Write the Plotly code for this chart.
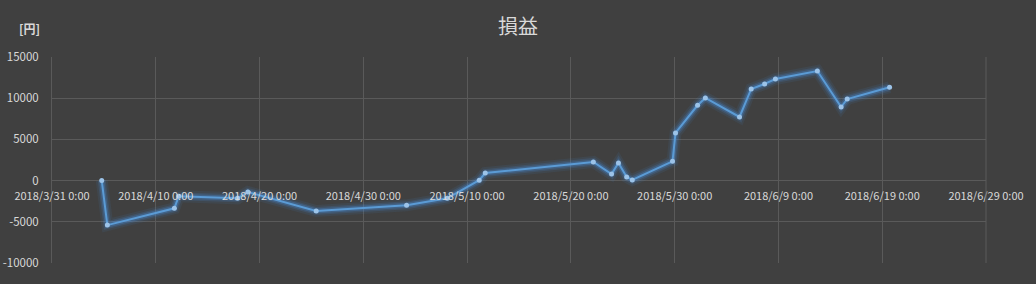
import plotly.graph_objects as go

dates = [
    "2018-04-04 19:00", "2018-04-05 08:00", "2018-04-11 19:00", "2018-04-12 05:00",
    "2018-04-17 21:00", "2018-04-18 21:00", "2018-04-25 11:00", "2018-05-04 04:00",
    "2018-05-08 02:00", "2018-05-11 04:00", "2018-05-11 18:00", "2018-05-22 04:00",
    "2018-05-23 22:00", "2018-05-24 14:00", "2018-05-25 09:00", "2018-05-25 22:00",
    "2018-05-29 19:00", "2018-05-30 02:00", "2018-06-01 05:00", "2018-06-01 23:00",
    "2018-06-05 06:00", "2018-06-06 09:00", "2018-06-07 16:00", "2018-06-08 17:00",
    "2018-06-12 18:00", "2018-06-15 01:00", "2018-06-15 15:00", "2018-06-19 17:00",
]
profit = [
    0, -5400, -3360, -1900,
    -2150, -1380, -3690, -3000,
    -2150, 50, 920, 2260,
    800, 2140, 440, 80,
    2340, 5780, 9140, 10030,
    7720, 11120, 11730, 12330,
    13300, 8930, 9900, 11320,
]
x_tick_dates = ["2018-03-31", "2018-04-10", "2018-04-20", "2018-04-30", "2018-05-10",
                "2018-05-20", "2018-05-30", "2018-06-09", "2018-06-19", "2018-06-29"]
x_tick_labels = ["2018/3/31 0:00", "2018/4/10 0:00", "2018/4/20 0:00", "2018/4/30 0:00",
                 "2018/5/10 0:00", "2018/5/20 0:00", "2018/5/30 0:00", "2018/6/9 0:00",
                 "2018/6/19 0:00", "2018/6/29 0:00"]
y_ticks = [-10000, -5000, 0, 5000, 10000, 15000]
y_tick_labels = ["-10000", "-5000", "0", "5000", "10000", "15000"]

FONT = "Noto Sans CJK JP"
W, H = 1036, 284
L, R, T, B = 52, 986, 57, 263
y_min, y_max = -10000, 15000
zero_pos = (0 - y_min) / (y_max - y_min)

fig = go.Figure()
# glow layers
for w, a in [(12, 0.08), (8, 0.14), (5, 0.25)]:
    fig.add_trace(go.Scatter(x=dates, y=profit, mode="lines",
                             line=dict(color=f"rgba(70,150,240,{a})", width=w),
                             hoverinfo="skip", showlegend=False))
fig.add_trace(go.Scatter(x=dates, y=profit, mode="lines+markers",
                         line=dict(color="#5b9bd5", width=2),
                         marker=dict(size=5, color="#9cc3e8",
                                     line=dict(width=0)),
                         showlegend=False))

fig.update_layout(
    width=W, height=H,
    paper_bgcolor="#404040", plot_bgcolor="#404040",
    margin=dict(l=L, r=W - R, t=T, b=H - B, pad=0, autoexpand=False),
    font=dict(family=FONT, color="#d9d9d9", size=11),
    title=dict(text="損益", x=0.5, xanchor="center", y=1 - 27 / H, yanchor="middle",
               font=dict(family=FONT, size=20, color="#d9d9d9")),
    xaxis=dict(
        type="date", automargin=False,
        range=["2018-03-31", "2018-06-29"],
        tickvals=x_tick_dates, ticktext=x_tick_labels,
        showgrid=True, gridcolor="#5a5a5a", gridwidth=1,
        showline=False, zeroline=False, ticks="",
        anchor="free", position=zero_pos, ticklabelstandoff=7,
        tickfont=dict(family=FONT, size=11, color="#d9d9d9"),
    ),
    yaxis=dict(
        range=[y_min, y_max], automargin=False,
        tickvals=y_ticks, ticktext=y_tick_labels,
        showgrid=True, gridcolor="#5a5a5a", gridwidth=1,
        zeroline=False, showline=True, linecolor="#5a5a5a", linewidth=1,
        ticks="", ticklabelstandoff=10,
        tickfont=dict(family=FONT, size=11.5, color="#d9d9d9"),
    ),
    annotations=[dict(text="<b>[円]</b>", xref="paper", yref="paper",
                      x=-(L - 17) / (R - L), y=1 + (T - 28) / (B - T),
                      xanchor="left", yanchor="middle", showarrow=False,
                      font=dict(family=FONT, size=12, color="#d9d9d9"))],
)
fig.add_shape(type="line", xref="paper", yref="paper", x0=1, x1=1, y0=0, y1=1,
              line=dict(color="#5a5a5a", width=1))

fig.write_html("out.html")
